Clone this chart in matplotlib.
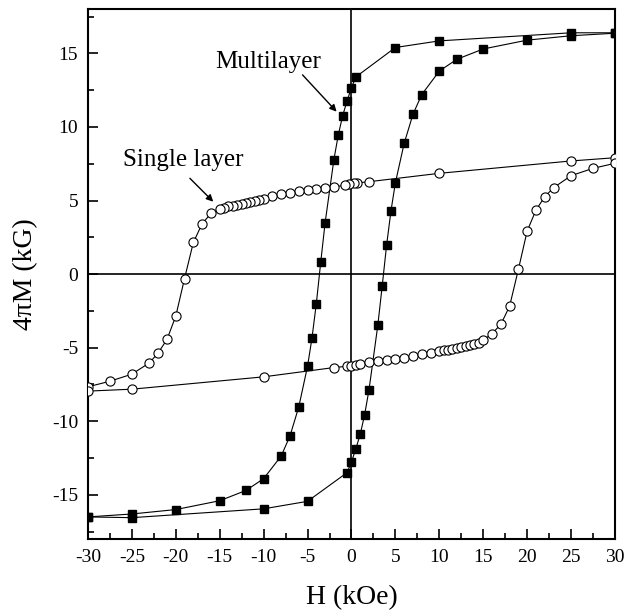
import numpy as np
import matplotlib
matplotlib.use("Agg")
import matplotlib.pyplot as plt
from matplotlib.ticker import MultipleLocator

plt.rcParams['font.family'] = ['Liberation Serif', 'DejaVu Serif']
plt.rcParams['axes.unicode_minus'] = False

# multilayer, descending branch (from +30 down to -30)
ml_down_h = [30, 25, 10, 5, 0.5, 0, -0.5, -1, -1.5, -2, -3, -3.5, -4, -4.5, -5,
             -6, -7, -8, -10, -12, -15, -20, -25, -30]
ml_down_m = [16.4, 16.4, 15.85, 15.4, 13.4, 12.67, 11.77, 10.77, 9.46, 7.78, 3.49,
             0.8, -2.0, -4.37, -6.26, -9.03, -11.0, -12.36, -13.9, -14.7, -15.4,
             -16.0, -16.3, -16.5]
# multilayer, ascending branch (from -30 up to +30)
ml_up_h = [-30, -25, -10, -5, -0.5, 0, 0.5, 1, 1.5, 2, 3, 3.5, 4, 4.5, 5, 6, 7, 8,
           10, 12, 15, 20, 25, 30]
ml_up_m = [-16.5, -16.55, -15.95, -15.44, -13.49, -12.77, -11.86, -10.88, -9.55,
           -7.85, -3.47, -0.8, 1.97, 4.31, 6.21, 8.89, 10.86, 12.2, 13.8, 14.6,
           15.3, 15.9, 16.2, 16.37]

# single layer, descending branch
sl_down_h = [30, 25, 10, 2, 0.65, 0.25, -0.25, -0.75, -2, -3, -4, -5, -6, -7, -8, -9,
             -10, -10.5, -11, -11.5, -12, -12.5, -13, -13.5, -14, -14.5, -15,
             -16, -17, -18, -19, -20, -21, -22, -23, -25, -27.5, -30]
sl_down_m = [7.91, 7.69, 6.85, 6.28, 6.2, 6.17, 6.11, 6.06, 5.9, 5.84, 5.77, 5.7,
             5.62, 5.53, 5.44, 5.28, 5.08, 5.02, 4.96, 4.9, 4.84, 4.78, 4.72,
             4.66, 4.6, 4.52, 4.42, 4.12, 3.42, 2.15, -0.3, -2.86, -4.44, -5.35,
             -6.03, -6.8, -7.28, -7.66]
# single layer, ascending branch
sl_up_h = [-30, -25, -10, -2, -0.5, 0, 0.5, 1, 2, 3, 4, 5, 6, 7, 8, 9,
           10, 10.5, 11, 11.5, 12, 12.5, 13, 13.5, 14, 14.5, 15,
           16, 17, 18, 19, 20, 21, 22, 23, 25, 27.5, 30]
sl_up_m = [-7.95, -7.82, -6.98, -6.35, -6.26, -6.21, -6.19, -6.12, -5.98, -5.92,
           -5.85, -5.74, -5.67, -5.58, -5.44, -5.35, -5.25, -5.19, -5.13, -5.07,
           -5.01, -4.95, -4.89, -4.82, -4.75, -4.66, -4.49, -4.04, -3.42, -2.18,
           0.32, 2.93, 4.35, 5.26, 5.87, 6.69, 7.19, 7.53]

fig = plt.figure(figsize=(6.37, 6.16), dpi=100)
ax = fig.add_axes([0.138, 0.125, 0.8275, 0.86])

ax.axhline(0, color='black', lw=1.2, zorder=1)
ax.axvline(0, color='black', lw=1.2, zorder=1)

sq = dict(color='black', lw=0.8, marker='s', ms=6.2, mfc='black', mec='black', zorder=3)
ci = dict(color='black', lw=0.8, marker='o', ms=6.6, mfc='white', mec='black', mew=0.8, zorder=3)
ax.plot(ml_down_h, ml_down_m, **sq)
ax.plot(ml_up_h, ml_up_m, **sq)
ax.plot(sl_down_h, sl_down_m, **ci)
ax.plot(sl_up_h, sl_up_m, **ci)

ax.set_xlim(-30, 30)
ax.set_ylim(-18, 18)
ax.xaxis.set_major_locator(MultipleLocator(5))
ax.xaxis.set_minor_locator(MultipleLocator(2.5))
ax.yaxis.set_major_locator(MultipleLocator(5))
ax.yaxis.set_minor_locator(MultipleLocator(2.5))
ax.tick_params(which='both', direction='in', top=False, right=False, width=1.2,
               labelsize=14, pad=7)
ax.tick_params(which='major', length=7)
ax.tick_params(which='minor', length=4)
for s in ax.spines.values():
    s.set_linewidth(1.5)

ax.set_xlabel('H (kOe)', fontsize=20, labelpad=14)
ax.set_ylabel('4πM (kG)', fontsize=20, labelpad=10)

ax.text(-9.5, 14.4, 'Multilayer', fontsize=18, ha='center', va='center')
ax.annotate('', xy=(-1.69, 11.04), xytext=(-5.57, 13.54),
            arrowprops=dict(arrowstyle='-|>', color='black', lw=1.0,
                            mutation_scale=10, shrinkA=0, shrinkB=0))
ax.text(-19.2, 7.76, 'Single layer', fontsize=18, ha='center', va='center')
ax.annotate('', xy=(-15.73, 4.92), xytext=(-18.39, 6.51),
            arrowprops=dict(arrowstyle='-|>', color='black', lw=1.0,
                            mutation_scale=10, shrinkA=0, shrinkB=0))

fig.savefig('out.png', dpi=100)
